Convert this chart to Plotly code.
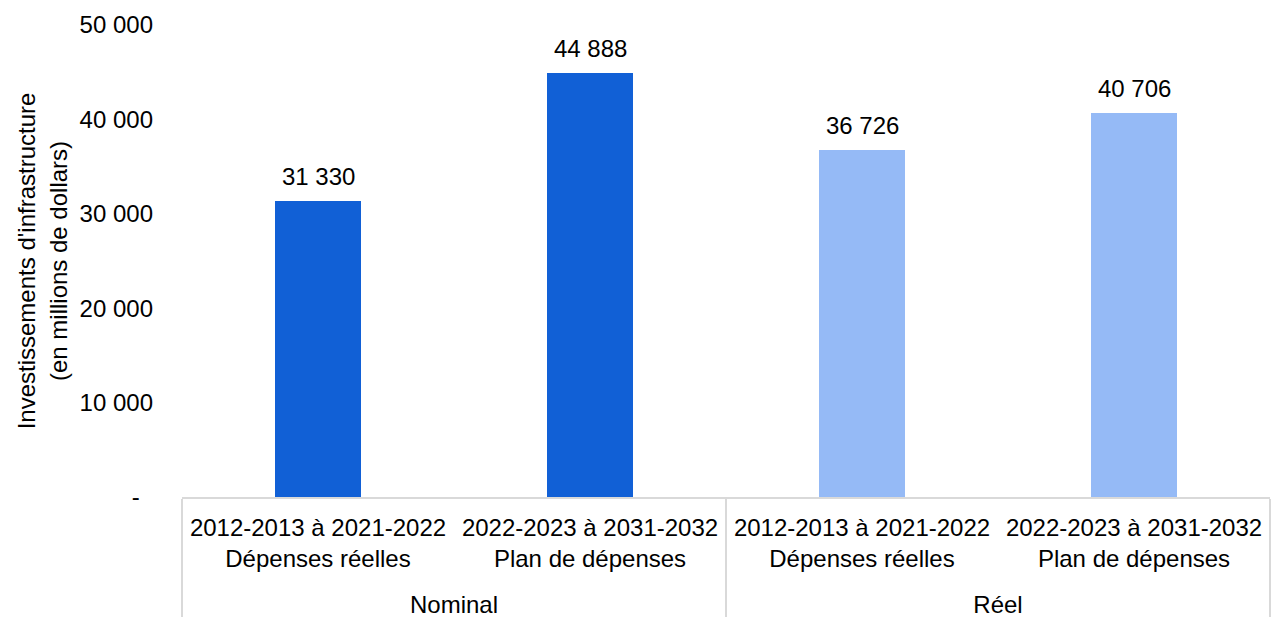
import plotly.graph_objects as go

groups = ["Nominal", "Nominal", "Réel", "Réel"]
periods = [
    "2012-2013 à 2021-2022<br>Dépenses réelles",
    "2022-2023 à 2031-2032<br>Plan de dépenses",
    "2012-2013 à 2021-2022<br>Dépenses réelles",
    "2022-2023 à 2031-2032<br>Plan de dépenses",
]
values = [31330, 44888, 36726, 40706]
value_labels = ["31 330", "44 888", "36 726", "40 706"]
bar_colors = ["#1160D6", "#1160D6", "#95BAF6", "#95BAF6"]

y_tickvals = [0, 10000, 20000, 30000, 40000, 50000]
y_ticktext = ["-\u00a0\u00a0", "10 000", "20 000", "30 000", "40 000", "50 000"]

FONT = "Liberation Sans, Arial, sans-serif"
FS = 24

# outer group labels pushed a little lower, as in the reference
group_text = [f"<span style='baseline-shift:-25px'>{g}</span>" for g in groups]

fig = go.Figure()
fig.add_trace(go.Bar(
    x=[group_text, periods],
    y=values,
    marker=dict(color=bar_colors, line=dict(width=0)),
    width=0.316,
    hoverinfo="skip",
))

for i, (v, t) in enumerate(zip(values, value_labels)):
    fig.add_annotation(x=i, y=v, text=t, showarrow=False, yanchor="bottom",
                       yshift=9, font=dict(family=FONT, size=FS, color="#000000"))

fig.update_layout(
    width=1271, height=617,
    margin=dict(l=182, r=1, t=25, b=120),
    paper_bgcolor="white", plot_bgcolor="white",
    showlegend=False,
    font=dict(family=FONT, size=FS, color="#000000"),
    bargap=0,
)
fig.update_xaxes(
    type="multicategory",
    showline=True, linecolor="#D9D9D9", linewidth=1.5,
    showdividers=True, dividercolor="#D9D9D9", dividerwidth=1.5,
    ticks="", showgrid=False,
    ticklabelstandoff=8,
    tickfont=dict(family=FONT, size=FS, color="#000000"),
)
fig.update_yaxes(
    range=[0, 50000],
    tickvals=y_tickvals, ticktext=y_ticktext,
    showgrid=False, zeroline=False, showline=False, ticks="",
    ticklabelstandoff=28,
    tickfont=dict(family=FONT, size=FS, color="#000000"),
    title=dict(text="Investissements d'infrastructure<br>(en millions de dollars)",
               font=dict(family=FONT, size=FS, color="#000000"), standoff=5),
)

fig.write_html("out.html")
